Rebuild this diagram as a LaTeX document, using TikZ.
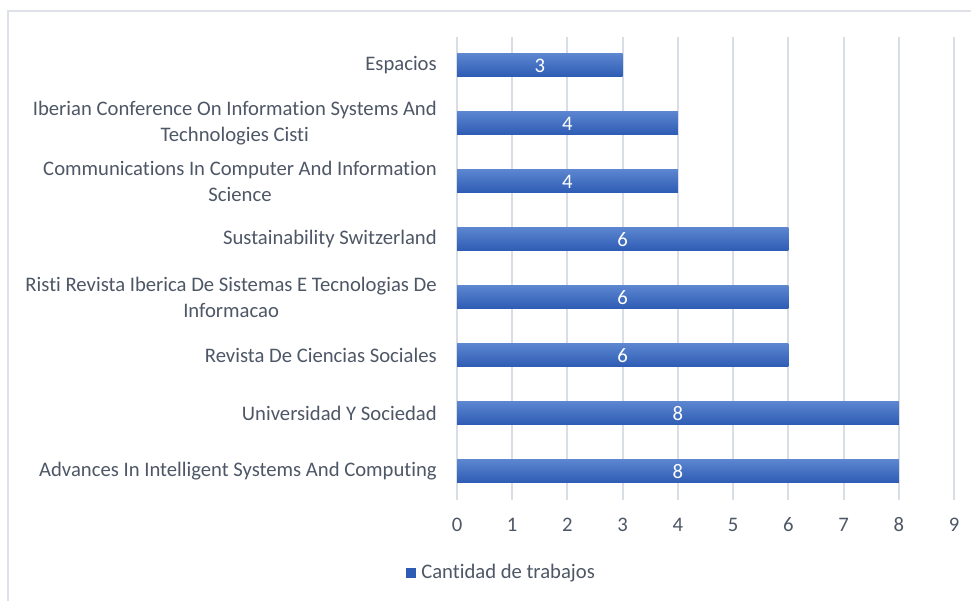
\documentclass[tikz,border=0pt]{standalone}
\usepackage{fontspec}
\setmainfont[Ligatures={NoCommon}]{Carlito}
\usepackage{xcolor}
\definecolor{textgray}{RGB}{78,87,102}
\definecolor{gridgray}{RGB}{217,222,230}
\definecolor{bartop}{RGB}{92,134,208}
\definecolor{barbot}{RGB}{46,92,180}
\definecolor{framegray}{RGB}{222,226,232}
\tikzset{
  px/.style={x=0.75pt,y=-0.75pt},
  bar/.style={top color=bartop,bottom color=barbot,draw=none},
  grid/.style={draw=gridgray,line width=1.5pt},
  cat/.style={anchor=east,align=center,text=textgray,font=\fontsize{15.5}{19.5}\selectfont,inner sep=0pt},
  val/.style={text=white,font=\fontsize{15.5}{18}\selectfont,inner sep=0pt},
  tick/.style={text=textgray,font=\fontsize{15.5}{18}\selectfont,inner sep=0pt}
}

\begin{document}
\begin{tikzpicture}[px]
        \useasboundingbox (0,0) rectangle (971,601);
        \fill[white] (0,0) rectangle (971,601);

        % frame
        \draw[framegray,line width=1pt] (8,601) -- (8,11) -- (971,11);

        % grid lines
        \draw[grid] (457,37) -- (457,500);
        \draw[grid] (512.2,37) -- (512.2,500);
        \draw[grid] (567.4,37) -- (567.4,500);
        \draw[grid] (622.7,37) -- (622.7,500);
        \draw[grid] (677.9,37) -- (677.9,500);
        \draw[grid] (733.1,37) -- (733.1,500);
        \draw[grid] (788.3,37) -- (788.3,500);
        \draw[grid] (843.5,37) -- (843.5,500);
        \draw[grid] (898.8,37) -- (898.8,500);
        \draw[grid] (954,37) -- (954,500);

        % bars
        \draw[bar] (457,53.3) rectangle (622.7,76.7);
        \draw[bar] (457,111.3) rectangle (677.9,134.7);
        \draw[bar] (457,169.3) rectangle (677.9,192.7);
        \draw[bar] (457,227.3) rectangle (788.3,250.7);
        \draw[bar] (457,285.3) rectangle (788.3,308.7);
        \draw[bar] (457,343.3) rectangle (788.3,366.7);
        \draw[bar] (457,401.3) rectangle (898.8,424.7);
        \draw[bar] (457,459.3) rectangle (898.8,482.7);

        % values
        \node[val] (v1) at (539.8,65.5) {3};
        \node[val] (v2) at (567.4,123.5) {4};
        \node[val] (v3) at (567.4,181.5) {4};
        \node[val] (v4) at (622.7,239.5) {6};
        \node[val] (v5) at (622.7,297.5) {6};
        \node[val] (v6) at (622.7,355.5) {6};
        \node[val] (v7) at (677.9,413.5) {8};
        \node[val] (v8) at (677.9,471.5) {8};

        % categories
        \node[cat] (c1) at (437,65) {Espacios};
        \node[cat] (c2) at (437,123) {Iberian Conference On Information Systems And\\Technologies Cisti};
        \node[cat] (c3) at (437,181) {Communications In Computer And Information\\Science};
        \node[cat] (c4) at (437,239) {Sustainability Switzerland};
        \node[cat] (c5) at (437,297) {Risti Revista Iberica De Sistemas E Tecnologias De\\Informacao};
        \node[cat] (c6) at (437,355) {Revista De Ciencias Sociales};
        \node[cat] (c7) at (437,413) {Universidad Y Sociedad};
        \node[cat] (c8) at (437,471) {Advances In Intelligent Systems And Computing};

        % axis numbers
        \node[tick] (t0) at (457,525) {0};
        \node[tick] (t1) at (512.2,525) {1};
        \node[tick] (t2) at (567.4,525) {2};
        \node[tick] (t3) at (622.7,525) {3};
        \node[tick] (t4) at (677.9,525) {4};
        \node[tick] (t5) at (733.1,525) {5};
        \node[tick] (t6) at (788.3,525) {6};
        \node[tick] (t7) at (843.5,525) {7};
        \node[tick] (t8) at (898.8,525) {8};
        \node[tick] (t9) at (954,525) {9};

        % legend
        \fill[barbot] (406,568) rectangle (416,578);
        \node[tick,anchor=west] (leg) at (421,573) {Cantidad de trabajos};

\end{tikzpicture}
\end{document}
